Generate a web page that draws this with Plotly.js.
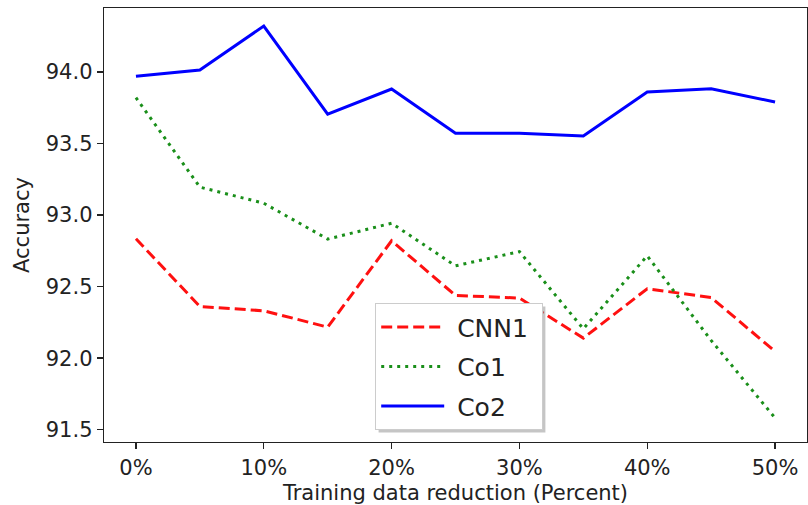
<!DOCTYPE html>
<html>
<head>
<meta charset="utf-8">
<script src="https://cdn.plot.ly/plotly-3.0.1.min.js"></script>
<style>
  html, body { margin: 0; padding: 0; background: #fff; }
  #chart { width: 808px; height: 505px; }
</style>
</head>
<body>
<div id="chart"></div>
<script>
const reductionPct = [0, 5, 10, 15, 20, 25, 30, 35, 40, 45, 50];
const cnn1 = [92.834, 92.361, 92.331, 92.217, 92.820, 92.438, 92.420, 92.140, 92.485, 92.424, 92.047];
const co1  = [93.821, 93.195, 93.083, 92.832, 92.943, 92.645, 92.745, 92.205, 92.715, 92.124, 91.582];
const co2  = [93.970, 94.014, 94.321, 93.705, 93.881, 93.572, 93.572, 93.553, 93.860, 93.883, 93.790];
const seriesNames = ['CNN1', 'Co1', 'Co2'];
const xTickVals = [0, 10, 20, 30, 40, 50];
const xTickText = ['0%', '10%', '20%', '30%', '40%', '50%'];
const yTickVals = [91.5, 92.0, 92.5, 93.0, 93.5, 94.0];
const yTickText = ['91.5', '92.0', '92.5', '93.0', '93.5', '94.0'];

const FONT = 'DejaVu Sans, sans-serif';
const W = 808, H = 505;
const M = {l: 104, r: 1, t: 8, b: 63};
const pw = W - M.l - M.r, ph = H - M.t - M.b;
const NB = '\u00a0';

const traces = [
  {x: reductionPct, y: cnn1, name: NB + seriesNames[0] + NB, legendgroup: 'a', mode: 'lines',
   line: {color: '#ff1010', width: 3, dash: '11px,5px'}},
  {x: reductionPct, y: co1, name: NB + seriesNames[1] + NB, legendgroup: 'b', mode: 'lines',
   line: {color: '#1a8f1a', width: 3, dash: '3px,5px'}},
  {x: reductionPct, y: co2, name: NB + seriesNames[2] + NB, legendgroup: 'c', mode: 'lines',
   line: {color: '#0000ff', width: 3}}
];

const px2x = p => (p - M.l) / pw;
const px2y = p => (H - M.b - p) / ph;

const layout = {
  width: W, height: H,
  margin: M,
  paper_bgcolor: '#ffffff',
  plot_bgcolor: '#ffffff',
  font: {family: FONT, size: 21, color: '#222'},
  showlegend: true,
  legend: {
    x: px2x(375), y: px2y(303), xanchor: 'left', yanchor: 'top',
    xref: 'paper', yref: 'paper',
    bgcolor: '#ffffff', bordercolor: '#cccccc', borderwidth: 1.2,
    font: {family: FONT, size: 25, color: '#222'},
    itemwidth: 63, tracegroupgap: 4
  },
  xaxis: {
    range: [-2.5, 52.5],
    tickmode: 'array', tickvals: xTickVals, ticktext: xTickText,
    showgrid: false, zeroline: false,
    showline: true, mirror: true, linecolor: '#222', linewidth: 1.3,
    ticks: 'outside', ticklen: 6, tickwidth: 1.3, tickcolor: '#222',
    tickfont: {family: FONT, size: 21, color: '#222'},
    title: {text: 'Training data reduction (Percent)', font: {family: FONT, size: 21, color: '#222'}, standoff: 6}
  },
  yaxis: {
    range: [91.414, 94.447],
    tickmode: 'array', tickvals: yTickVals, ticktext: yTickText,
    showgrid: false, zeroline: false,
    showline: true, mirror: true, linecolor: '#222', linewidth: 1.3,
    ticks: 'outside', ticklen: 6, tickwidth: 1.3, tickcolor: '#222',
    tickfont: {family: FONT, size: 21, color: '#222'},
    title: {text: 'Accuracy', font: {family: FONT, size: 21, color: '#222'}, standoff: 10}
  }
};

Plotly.newPlot('chart', traces, layout, {displayModeBar: false, staticPlot: true}).then(gd => {
  // add a drop shadow behind the legend box, sized from the rendered legend
  const bg = gd.querySelector('.legend .bg');
  const root = gd.querySelector('.main-svg').getBoundingClientRect();
  if (!bg) return;
  const r = bg.getBoundingClientRect();
  const x0 = r.left - root.left, y0 = r.top - root.top;
  const x1 = x0 + r.width, y1 = y0 + r.height;
  const off = 3;
  return Plotly.relayout(gd, {
    shapes: [{type: 'rect', xref: 'paper', yref: 'paper', layer: 'above',
      x0: px2x(x0 + off), x1: px2x(x1 + off), y0: px2y(y1 + off), y1: px2y(y0 + off),
      fillcolor: 'rgba(140,140,140,0.5)', line: {width: 0}}]
  });
});
</script>
</body>
</html>
